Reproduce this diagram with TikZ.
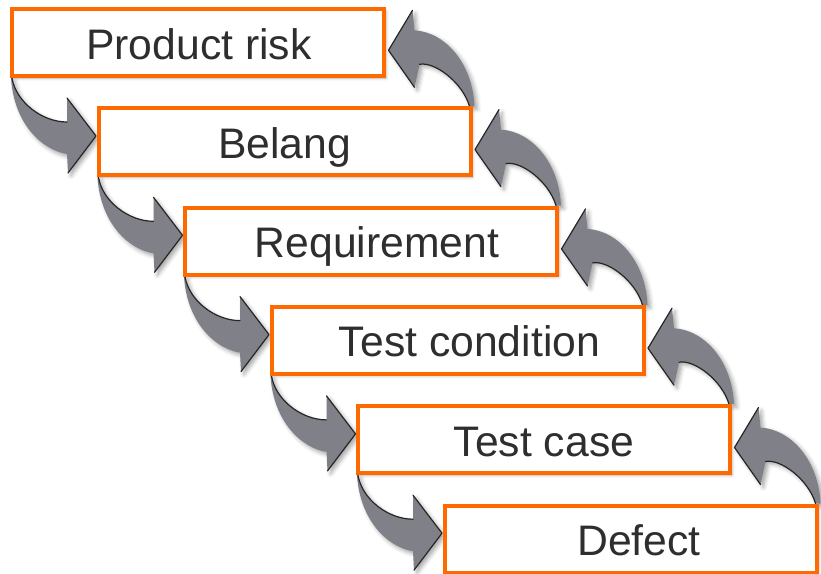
\documentclass[tikz,border=0pt]{standalone}
\usepackage{fontspec}
\setmainfont{Liberation Sans}
\usetikzlibrary{backgrounds,shadows.blur}
\definecolor{orangeboite}{HTML}{FF6A00}
\definecolor{grisfleche}{HTML}{808188}
\definecolor{gristexte}{HTML}{2E2E2E}
\tikzset{
  boite/.style={draw=orangeboite, line width=4pt, fill=white,
    minimum width=372pt, minimum height=67pt, inner sep=0pt, outer sep=0pt,
    blur shadow={shadow xshift=2pt, shadow yshift=-2pt, shadow blur radius=3pt, shadow opacity=30}},
  etiquette/.style={text=gristexte, font=\fontsize{42.7}{50}\selectfont, anchor=base, inner sep=0pt},
  fleche/.style={fill=grisfleche,
    blur shadow={shadow xshift=3pt, shadow yshift=-3pt, shadow blur radius=4pt, shadow opacity=35}},
  bord/.style={draw=black!85, line width=1.2pt, line join=round, line cap=round}
}
\begin{document}
\begin{tikzpicture}[x=1pt,y=-1pt]
\pgfmathsetmacro{\xo}{198}
\pgfmathsetmacro{\yo}{42.5}
\pgfmathsetmacro{\dx}{86.5}
\pgfmathsetmacro{\dy}{99.3}
\useasboundingbox (0,0) rectangle (821,573);
\foreach \nom/\txt/\decal [count=\i from 0] in {risk/Product risk/1, belang/Belang/0, req/Requirement/6, cond/Test condition/12, cas/Test case/0, defect/Defect/8.5}{
  \node[boite] (\nom) at ({\xo+\i*\dx},{\yo+\i*\dy}) {};
  \node[etiquette] (t\nom) at ([xshift=\decal pt, yshift=-16.5pt]\nom.center) {\txt};
}
\begin{scope}[on background layer]
\foreach \haut/\bas in {risk/belang, belang/req, req/cond, cond/cas, cas/defect}{
  % vers le bas
  \begin{scope}[shift={(\haut.south west)}]
    \fill[fleche] (0,2) .. controls (4,26) and (30,46) .. (55,46) -- (55,22) -- (84,60) -- (56,97) -- (55,78)
      .. controls (30,74) and (2,48) .. (-1,2) -- cycle;
    \draw[bord] (0,2) .. controls (4,26) and (30,46) .. (55,46);
    \draw[bord] (55,22) -- (84,60) -- (56,97);
  \end{scope}
  % vers le haut
  \begin{scope}[shift={(\bas.north east)}]
    \fill[fleche] (-1,-2) .. controls (-8,-26) and (-36,-47) .. (-51,-44) -- (-56,-21) -- (-82,-58) -- (-58,-98) -- (-56,-78)
      .. controls (-25,-76) and (2,-45) .. (4,-2) -- cycle;
    \draw[bord] (-1,-2) .. controls (-8,-26) and (-36,-47) .. (-51,-44);
    \draw[bord] (-56,-21) -- (-82,-58) -- (-58,-98);
  \end{scope}
}
\end{scope}
\end{tikzpicture}
\end{document}
